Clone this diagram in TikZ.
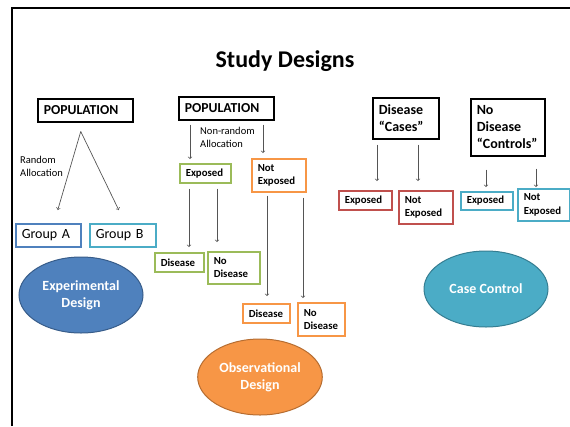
\documentclass[tikz,border=0pt]{standalone}
\usepackage{fontspec}
\setmainfont{Carlito}
\usepackage{tikz}
\usetikzlibrary{positioning,shapes.geometric,arrows}

\definecolor{tBlue}{HTML}{4F81BD}
\definecolor{tBlueDark}{HTML}{385D8A}
\definecolor{tAqua}{HTML}{4BACC6}
\definecolor{tAquaDark}{HTML}{357D91}
\definecolor{tGreen}{HTML}{9BBB59}
\definecolor{tOrange}{HTML}{F79646}
\definecolor{tOrangeDark}{HTML}{B66D31}
\definecolor{tRed}{HTML}{C0504D}
\definecolor{tLine}{HTML}{555555}

\newcommand{\tBoxFont}{\fontsize{10.8}{13.3}\selectfont\bfseries}
\newcommand{\tHeadFont}{\fontsize{14}{17}\selectfont\bfseries}
\newcommand{\tNoteFont}{\fontsize{10.5}{13}\selectfont}

\tikzstyle{arrow} = [->, draw=tLine, line width=0.7pt]
\tikzstyle{tRect} = [rectangle, draw=black, line width=1.5pt, anchor=north west, inner xsep=6pt, inner ysep=2pt, align=left, font=\tBoxFont]
\tikzstyle{tHead} = [tRect, font=\tHeadFont]
\tikzstyle{tEllipse} = [ellipse, line width=1pt, minimum width=124pt, minimum height=76pt, text=white, align=center, font=\tHeadFont]

\begin{document}
\begin{tikzpicture}[x=1pt,y=-1pt]
        \useasboundingbox (0,0) rectangle (570,426);
        % slide frame
        \draw[line width=2.2pt] (12,426) -- (12,8) -- (570,8);
        \node[font=\fontsize{24}{28}\selectfont\bfseries, anchor=base] (Title) at (285,67) {Study Designs};

        % experimental
        \node[tRect, font=\fontsize{13.7}{16}\selectfont\bfseries, minimum width=95pt, minimum height=23pt, text width=83pt] (PopA) at (37,98) {POPULATION};
        \node[tRect, draw=tBlue, font=\fontsize{14}{17}\selectfont, minimum width=65pt, minimum height=23pt, text width=53pt] (GroupA) at (15,223) {Group A};
        \node[tRect, draw=tAqua, font=\fontsize{14}{17}\selectfont, minimum width=66pt, minimum height=23pt, text width=54pt] (GroupB) at (89,223) {Group B};
        \draw[arrow] ([xshift=-4.5pt,yshift=-9pt]PopA.south) -- ([xshift=9.5pt,yshift=13pt]GroupA.north);
        \draw[arrow] ([xshift=-4.5pt,yshift=-9pt]PopA.south) -- ([xshift=-4pt,yshift=13pt]GroupB.north);
        \node[font=\tNoteFont, align=left, anchor=north west, inner sep=0pt] (RandNote) at (20,156) {Random\\Allocation};
        \node[tEllipse, fill=tBlue, draw=tBlueDark] (Exper) at (81,295) {Experimental\\Design};

        % observational
        \node[tRect, font=\fontsize{13.7}{16}\selectfont\bfseries, minimum width=95pt, minimum height=23pt, text width=83pt] (PopB) at (178,96) {POPULATION};
        \node[tRect, draw=tGreen, minimum width=51pt, minimum height=19pt, text width=39pt] (ExpG) at (179,163) {Exposed};
        \node[tRect, draw=tOrange, minimum width=54pt, minimum height=33pt, text width=42pt] (NotExpO) at (251,158) {Not\\Exposed};
        \node[tRect, draw=tGreen, minimum width=49pt, minimum height=19pt, text width=37pt] (DisG) at (154,252) {Disease};
        \node[tRect, draw=tGreen, minimum width=52pt, minimum height=32pt, text width=40pt] (NoDisG) at (207,251) {No\\Disease};
        \node[tRect, draw=tOrange, minimum width=47pt, minimum height=19pt, text width=35pt] (DisO) at (242,303) {Disease};
        \node[tRect, draw=tOrange, minimum width=47pt, minimum height=33pt, text width=35pt] (NoDisO) at (297,302) {No\\Disease};
        \draw[arrow, shorten <=4pt, shorten >=4pt] ([xshift=12pt]PopB.south west) -- ([xshift=12pt]PopB.south west |- ExpG.north);
        \draw[arrow, shorten <=4pt, shorten >=5pt] ([xshift=85pt]PopB.south west) -- ([xshift=85pt]PopB.south west |- NotExpO.north);
        \node[font=\tNoteFont, align=left, anchor=north west, inner sep=0pt] (NonRandNote) at (200,127) {Non-random\\Allocation};
        \draw[arrow, shorten <=5pt, shorten >=5pt] ([xshift=10pt]ExpG.south west) -- ([xshift=10pt]ExpG.south west |- DisG.north);
        \draw[arrow, shorten <=5pt, shorten >=9pt] ([xshift=38pt]ExpG.south west) -- ([xshift=38pt]ExpG.south west |- NoDisG.north);
        \draw[arrow, shorten <=3pt, shorten >=7pt] ([xshift=16pt]NotExpO.south west) -- ([xshift=16pt]NotExpO.south west |- DisO.north);
        \draw[arrow, shorten <=5pt, shorten >=4pt] ([xshift=52pt]NotExpO.south west) -- ([xshift=52pt]NotExpO.south west |- NoDisO.north);
        \node[tEllipse, fill=tOrange, draw=tOrangeDark] (Obs) at (260,377) {Observational\\Design};

        % case control
        \node[tHead, minimum width=66pt, minimum height=41pt, text width=54pt] (Cases) at (372,97) {Disease\\``Cases''};
        \node[tHead, minimum width=74pt, minimum height=57pt, text width=62pt] (Controls) at (470,98) {No\\Disease\\``Controls''};
        \node[tRect, draw=tRed, minimum width=53pt, minimum height=19pt, text width=41pt] (ExpR) at (338,190) {Exposed};
        \node[tRect, draw=tRed, minimum width=54pt, minimum height=33pt, text width=42pt] (NotExpR) at (398,190) {Not\\Exposed};
        \node[tRect, draw=tAqua, minimum width=52pt, minimum height=18pt, text width=40pt] (ExpC) at (460,191) {Exposed};
        \node[tRect, draw=tAqua, minimum width=52pt, minimum height=32pt, text width=40pt] (NotExpC) at (517,188) {Not\\Exposed};
        \draw[arrow, shorten <=5pt, shorten >=9pt] ([xshift=5pt]Cases.south west) -- ([xshift=5pt]Cases.south west |- ExpR.north);
        \draw[arrow, shorten <=5pt, shorten >=9pt] ([xshift=46pt]Cases.south west) -- ([xshift=46pt]Cases.south west |- NotExpR.north);
        \draw[arrow, shorten <=13pt, shorten >=4pt] ([xshift=16pt]Controls.south west) -- ([xshift=16pt]Controls.south west |- ExpC.north);
        \draw[arrow, shorten <=12pt, shorten >=1pt] ([xshift=66pt]Controls.south west) -- ([xshift=66pt]Controls.south west |- NotExpC.north);
        \node[tEllipse, fill=tAqua, draw=tAquaDark] (CaseCtrl) at (486,289) {Case Control};
\end{tikzpicture}
\end{document}
